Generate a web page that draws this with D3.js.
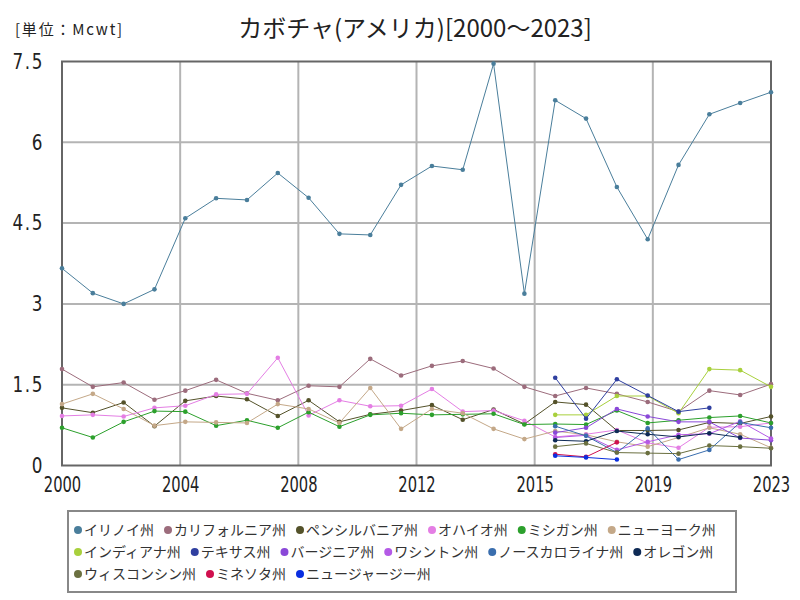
<!DOCTYPE html>
<html><head><meta charset="utf-8">
<script src="https://cdn.jsdelivr.net/npm/d3@7"></script>
<style>
body{margin:0;background:#fff;}
svg{display:block;}
</style></head>
<body><svg id="c" width="800" height="600"></svg>
<script>
const years = [2000,2001,2002,2003,2004,2005,2006,2007,2008,2009,2010,2011,2012,2013,2014,2015,2016,2017,2018,2019,2020,2021,2022,2023];
const seriesNames = ["イリノイ州","カリフォルニア州","ペンシルバニア州","オハイオ州","ミシガン州","ニューヨーク州","インディアナ州","テキサス州","バージニア州","ワシントン州","ノースカロライナ州","オレゴン州","ウィスコンシン州","ミネソタ州","ニュージャージー州"];
const seriesColors = ["#4a7e9b","#9c6c7c","#54522a","#e47ee4","#2ca02c","#c4a888","#a8d03c","#2f3fa0","#8a48d8","#b45ae6","#3a6eae","#0e2a55","#6b7040","#d0104e","#0a2ee0"];
const N = null;
const illinois = [3.66,3.20,3.00,3.27,4.59,4.96,4.93,5.43,4.97,4.30,4.28,5.21,5.56,5.49,7.46,3.19,6.78,6.44,5.17,4.20,5.58,6.52,6.73,6.93];
const california = [1.79,1.46,1.54,1.22,1.39,1.59,1.34,1.21,1.48,1.46,1.98,1.67,1.85,1.94,1.80,1.46,1.29,1.44,1.33,1.18,1.00,1.39,1.31,1.51];
const pennsylvania = [1.07,0.98,1.17,0.73,1.20,1.29,1.23,0.92,1.21,0.81,0.95,1.02,1.12,0.85,1.04,0.77,1.18,1.13,0.65,0.65,0.66,0.80,0.78,0.91];
const ohio = [0.92,0.94,0.91,1.07,1.11,1.32,1.33,2.00,0.93,1.21,1.10,1.11,1.42,1.00,1.02,0.83,0.53,0.58,0.66,0.42,0.33,0.71,0.72,0.79];
const michigan = [0.70,0.52,0.81,1.01,1.00,0.74,0.84,0.70,0.99,0.72,0.94,0.97,0.94,0.95,0.96,0.76,0.77,0.76,1.02,0.79,0.84,0.89,0.92,0.79];
const newYork = [1.14,1.33,1.05,0.74,0.81,0.80,0.79,1.14,1.05,0.79,1.44,0.68,1.05,0.97,0.68,0.49,0.64,0.57,0.44,0.35,0.52,0.70,0.58,0.33];
const indiana = [N,N,N,N,N,N,N,N,N,N,N,N,N,N,N,N,0.94,0.94,1.29,1.29,0.97,1.79,1.77,1.46];
const texas = [N,N,N,N,N,N,N,N,N,N,N,N,N,N,N,N,1.63,0.87,1.60,1.30,1.00,1.07,N,N];
const virginia = [N,N,N,N,N,N,N,N,N,N,N,N,N,N,N,N,0.61,0.70,1.05,0.91,0.81,0.81,0.51,0.47];
const washington = [N,N,N,N,N,N,N,N,N,N,N,N,N,N,N,N,0.52,0.56,0.29,0.44,0.57,0.59,0.82,0.50];
const northCarolina = [N,N,N,N,N,N,N,N,N,N,N,N,N,N,N,N,0.73,0.55,0.24,0.69,0.11,0.29,0.80,0.70];
const oregon = [N,N,N,N,N,N,N,N,N,N,N,N,N,N,N,N,0.47,0.45,0.64,0.58,0.53,0.60,0.52,N];
const wisconsin = [N,N,N,N,N,N,N,N,N,N,N,N,N,N,N,N,0.35,0.41,0.24,0.23,0.22,0.37,0.35,0.32];
const minnesota = [N,N,N,N,N,N,N,N,N,N,N,N,N,N,N,N,0.21,0.16,0.43,N,N,N,N,N];
const newJersey = [N,N,N,N,N,N,N,N,N,N,N,N,N,N,N,N,0.18,0.15,0.11,N,N,N,N,N];
const seriesValues = [illinois,california,pennsylvania,ohio,michigan,newYork,indiana,texas,virginia,washington,northCarolina,oregon,wisconsin,minnesota,newJersey];
const xTickLabels = ["2000","2004","2008","2012","2015","2019","2023"];
const yTicks = [0,1.5,3,4.5,6,7.5];
const yTickLabels = ["0","1.5","3","4.5","6","7.5"];
const titleText = "カボチャ(アメリカ)[2000～2023]";
const unitText = "[単位：Mcwt]";

const svg = d3.select("#c");
const L = 62, R = 771, T = 61.5, B = 465.5;
const x = d3.scaleLinear().domain([years[0], years[years.length-1]]).range([L, R]);
const y = d3.scaleLinear().domain([0, 7.5]).range([B, T]);
const xTickVals = xTickLabels.map((_, k) => years[0] + (years[years.length-1]-years[0]) * k / (xTickLabels.length-1));
const numFont = "'DejaVu Sans','Noto Sans',sans-serif";
const jpFont = "'Noto Sans CJK JP','Noto Sans',sans-serif";

function squeeze(sel, f) {
  sel.each(function() {
    const l = this.getComputedTextLength();
    d3.select(this).attr("textLength", l * f).attr("lengthAdjust", "spacingAndGlyphs");
  });
}

// grid
const grid = svg.append("g");
grid.selectAll("line.gx").data(xTickVals.slice(1, -1)).join("line")
  .attr("x1", d => x(d)).attr("x2", d => x(d)).attr("y1", T).attr("y2", B)
  .attr("stroke", "#b4b4b4").attr("stroke-width", 2);
grid.selectAll("line.gy").data(yTicks.slice(1, -1)).join("line")
  .attr("x1", L).attr("x2", R).attr("y1", d => y(d)).attr("y2", d => y(d))
  .attr("stroke", "#b4b4b4").attr("stroke-width", 2);

// frame
svg.append("rect").attr("x", L).attr("y", T).attr("width", R - L).attr("height", B - T)
  .attr("fill", "none").attr("stroke", "#666").attr("stroke-width", 2);

// axes
const xAxis = d3.axisBottom(x).tickValues(xTickVals).tickFormat((d, i) => xTickLabels[i]).tickSize(0).tickPadding(12);
const gx = svg.append("g").attr("transform", `translate(0,${B})`).call(xAxis);
gx.select(".domain").remove();
gx.selectAll("text").attr("font-family", numFont).attr("font-size", 21).attr("fill", "#222").call(squeeze, 0.7);
const yAxis = d3.axisLeft(y).tickValues(yTicks).tickFormat((d, i) => yTickLabels[i]).tickSize(0).tickPadding(18);
const gy = svg.append("g").attr("transform", `translate(${L},0)`).call(yAxis);
gy.select(".domain").remove();
gy.selectAll("text").attr("font-family", numFont).attr("font-size", 21).attr("fill", "#222")
  .attr("letter-spacing", 2).call(squeeze, 0.8);

// lines
const line = d3.line().defined(d => d.v != null).x(d => x(d.t)).y(d => y(d.v));
const plot = svg.append("g");
seriesValues.forEach((vals, si) => {
  const pts = vals.map((v, i) => ({t: years[i], v}));
  plot.append("path").datum(pts).attr("d", line).attr("fill", "none")
    .attr("stroke", seriesColors[si]).attr("stroke-width", 1);
  plot.selectAll(null).data(pts.filter(d => d.v != null)).join("circle")
    .attr("cx", d => x(d.t)).attr("cy", d => y(d.v)).attr("r", 2.3)
    .attr("fill", seriesColors[si]);
});

// title
svg.append("text").attr("x", 415).attr("y", 37).attr("text-anchor", "middle")
  .attr("font-family", jpFont).attr("font-size", 24).attr("fill", "#222").text(titleText);
svg.append("text").attr("x", 15).attr("y", 35)
  .attr("font-family", jpFont).attr("font-size", 15).attr("letter-spacing", 1.8).attr("fill", "#222").text(unitText);

// legend
const lg = svg.append("g");
const rows = [[0,1,2,3,4,5],[6,7,8,9,10,11],[12,13,14]];
const rowY = [530, 552, 574];
rows.forEach((row, ri) => {
  let cx = 78;
  row.forEach(si => {
    lg.append("circle").attr("cx", cx).attr("cy", rowY[ri]).attr("r", 4).attr("fill", seriesColors[si]);
    const t = lg.append("text").attr("x", cx + 6).attr("y", rowY[ri] + 5)
      .attr("font-family", jpFont).attr("font-size", 14).attr("fill", "#333").text(seriesNames[si]);
    cx += 6 + t.node().getComputedTextLength() + 14;
  });
});
lg.insert("rect", ":first-child").attr("x", 68).attr("y", 511).attr("width", 668).attr("height", 81)
  .attr("fill", "#fff").attr("stroke", "#888").attr("stroke-width", 2);
</script></body></html>
